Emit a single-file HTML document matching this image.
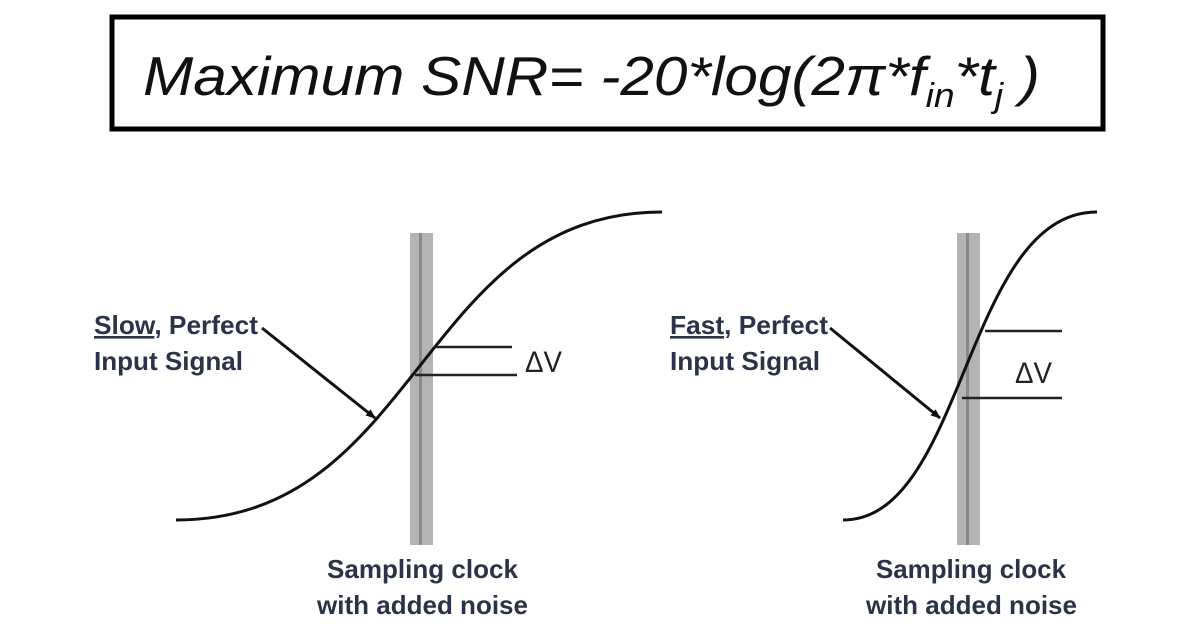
<!DOCTYPE html>
<html><head><meta charset="utf-8"><style>
html,body{margin:0;padding:0;background:#fff;width:1203px;height:632px;overflow:hidden}
</style></head><body>
<svg width="1203" height="632" viewBox="0 0 1203 632" xmlns="http://www.w3.org/2000/svg">
<defs><marker id="ah" markerWidth="10" markerHeight="8" refX="9" refY="4" orient="auto" markerUnits="userSpaceOnUse"><path d="M0,0 L10,4 L0,8 z" fill="#111"/></marker></defs>
<rect x="112" y="17" width="991" height="112" fill="#fff" stroke="#000" stroke-width="5"/>
<text x="143" y="95" font-family="Liberation Sans, sans-serif" font-style="italic" font-size="55" fill="#111" textLength="897" lengthAdjust="spacingAndGlyphs">Maximum SNR= -20*log(2π*f<tspan font-size="34" dy="12">in</tspan><tspan dy="-12">*</tspan>t<tspan font-size="34" dy="12">j</tspan><tspan dy="-12"> )</tspan></text>
<!-- left -->
<rect x="410" y="233" width="23" height="312" fill="#b4b4b4"/>
<rect x="419" y="233" width="3" height="312" fill="#8a8a8a"/>
<path d="M176,520 C420,520 420,212 662,212" fill="none" stroke="#111" stroke-width="3"/>
<line x1="436" y1="347" x2="512" y2="347" stroke="#222" stroke-width="2.5"/>
<line x1="415" y1="375" x2="517" y2="375" stroke="#222" stroke-width="2.5"/>
<text x="525" y="372" font-family="Liberation Sans, sans-serif" font-size="30" fill="#222" textLength="37" lengthAdjust="spacingAndGlyphs">ΔV</text>
<line x1="262" y1="328" x2="375" y2="418" stroke="#111" stroke-width="3" marker-end="url(#ah)"/>
<g font-family="Liberation Sans, sans-serif" font-weight="bold" font-size="26" fill="#2b3348" lengthAdjust="spacingAndGlyphs">
<text x="94" y="334" textLength="164" lengthAdjust="spacingAndGlyphs"><tspan text-decoration="underline">Slow</tspan>, Perfect</text>
<text x="94" y="370" textLength="149" lengthAdjust="spacingAndGlyphs">Input Signal</text>
<text x="327" y="578" textLength="191" lengthAdjust="spacingAndGlyphs">Sampling clock</text>
<text x="317" y="614" textLength="211" lengthAdjust="spacingAndGlyphs">with added noise</text>
<text x="670" y="334" textLength="158" lengthAdjust="spacingAndGlyphs"><tspan text-decoration="underline">Fast</tspan>, Perfect</text>
<text x="670" y="370" textLength="150" lengthAdjust="spacingAndGlyphs">Input Signal</text>
<text x="876" y="578" textLength="190" lengthAdjust="spacingAndGlyphs">Sampling clock</text>
<text x="866" y="614" textLength="211" lengthAdjust="spacingAndGlyphs">with added noise</text>
</g>
<!-- right -->
<rect x="957" y="233" width="23" height="312" fill="#b4b4b4"/>
<rect x="966" y="233" width="3" height="312" fill="#8a8a8a"/>
<path d="M843,520 C965,520 965,212 1097,212" fill="none" stroke="#111" stroke-width="3"/>
<line x1="985" y1="331" x2="1062" y2="331" stroke="#222" stroke-width="2.5"/>
<line x1="962" y1="398" x2="1062" y2="398" stroke="#222" stroke-width="2.5"/>
<text x="1015" y="383" font-family="Liberation Sans, sans-serif" font-size="30" fill="#222" textLength="37" lengthAdjust="spacingAndGlyphs">ΔV</text>
<line x1="830" y1="328" x2="940" y2="418" stroke="#111" stroke-width="3" marker-end="url(#ah)"/>
</svg>
</body></html>
